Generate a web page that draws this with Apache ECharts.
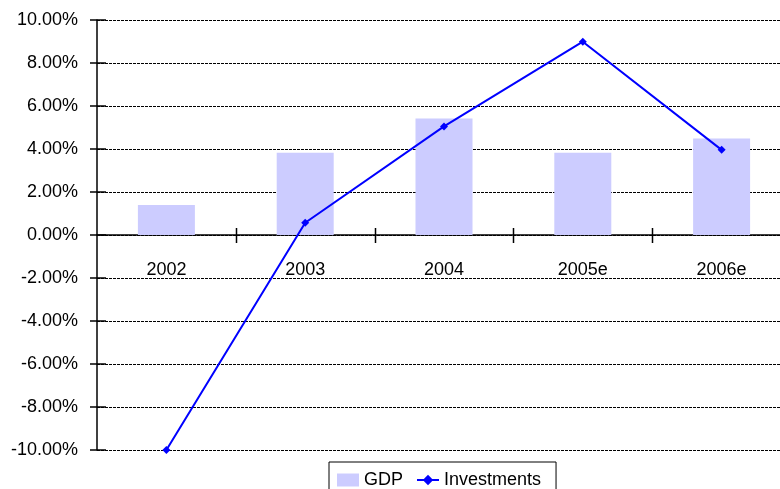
<!DOCTYPE html>
<html>
<head>
<meta charset="utf-8">
<script src="https://cdn.jsdelivr.net/npm/echarts@6/dist/echarts.min.js"></script>
<style>
  html, body { margin: 0; padding: 0; background: #fff; }
  #chart { width: 780px; height: 489px; }
</style>
</head>
<body>
<div id="chart"></div>
<script>
// Annual growth rates (%)
const categories = ['2002', '2003', '2004', '2005e', '2006e'];
const gdp = [1.40, 3.83, 5.42, 3.83, 4.49];
const investments = [-10.0, 0.57, 5.05, 8.99, 3.96];
const yTicks = [-10, -8, -6, -4, -2, 0, 2, 4, 6, 8, 10];

const font = 'Liberation Sans, Arial, sans-serif';
const chart = echarts.init(document.getElementById('chart'));

// Tick marks that cross the axis lines (drawn through the chart's own coordinate system)
function xTickItem(params, api) {
  const c = api.coord([api.value(0), 0]);
  const bw = api.size([1, 0])[0];
  const x = Math.round(c[0] + bw / 2) + 0.5;
  return {
    type: 'line',
    shape: { x1: x, y1: c[1] - 7, x2: x, y2: c[1] + 8 },
    style: { stroke: '#000', lineWidth: 1.5 }
  };
}
function yTickItem(params, api) {
  const c = api.coord([0, api.value(1)]);
  const bw = api.size([1, 0])[0];
  const x = c[0] - bw / 2;
  return {
    type: 'line',
    shape: { x1: x - 7, y1: c[1], x2: x + 9, y2: c[1] },
    style: { stroke: '#000', lineWidth: 1.5 }
  };
}

const gridTop = 20, gridHeight = 430;
// category labels sit just under the zero line
const zeroY = gridTop + gridHeight / 2;
const labelMargin = (zeroY + 26) - (gridTop + gridHeight);

chart.setOption({
  animation: false,
  backgroundColor: '#fff',
  textStyle: { fontFamily: font },
  grid: {
    left: 97, top: gridTop, width: 694, height: gridHeight,
    containLabel: false, outerBoundsMode: 'none'
  },
  legend: {
    left: 329, top: 462,
    padding: [9, 15, 8, 8],
    itemGap: 13,
    itemWidth: 22, itemHeight: 13,
    borderColor: '#000', borderWidth: 1,
    textStyle: { color: '#000', fontSize: 18, fontFamily: font },
    data: [
      { name: 'GDP', icon: 'rect' },
      { name: 'Investments' }
    ]
  },
  xAxis: {
    type: 'category', data: categories,
    axisLine: { onZero: true, lineStyle: { color: '#000', width: 1.5 } },
    axisTick: { show: false },
    axisLabel: { color: '#000', fontSize: 18, fontFamily: font, margin: labelMargin, verticalAlign: 'top' }
  },
  yAxis: {
    type: 'value', min: -10, max: 10, interval: 2,
    axisLine: { show: true, lineStyle: { color: '#000', width: 1.5 } },
    axisTick: { show: false },
    axisLabel: {
      color: '#000', fontSize: 18, fontFamily: font, margin: 19,
      formatter: v => v.toFixed(2) + '%'
    },
    splitLine: { show: true, lineStyle: { color: '#000', width: 1, type: [3, 1] } }
  },
  series: [
    {
      name: 'GDP', type: 'bar', data: gdp, barWidth: 57,
      itemStyle: { color: '#CCCCFF' }
    },
    {
      name: 'Investments', type: 'line', data: investments,
      symbol: 'diamond', symbolSize: 8,
      lineStyle: { color: '#0000FF', width: 2 },
      itemStyle: { color: '#0000FF' },
      z: 5
    },
    {
      name: 'xTicks', type: 'custom', silent: true, clip: false, z: 4,
      renderItem: xTickItem,
      data: categories.map((c, i) => [i, 0])
    },
    {
      name: 'yTicks', type: 'custom', silent: true, clip: false, z: 4,
      renderItem: yTickItem,
      data: yTicks.map(v => [0, v])
    }
  ]
});
</script>
</body>
</html>
